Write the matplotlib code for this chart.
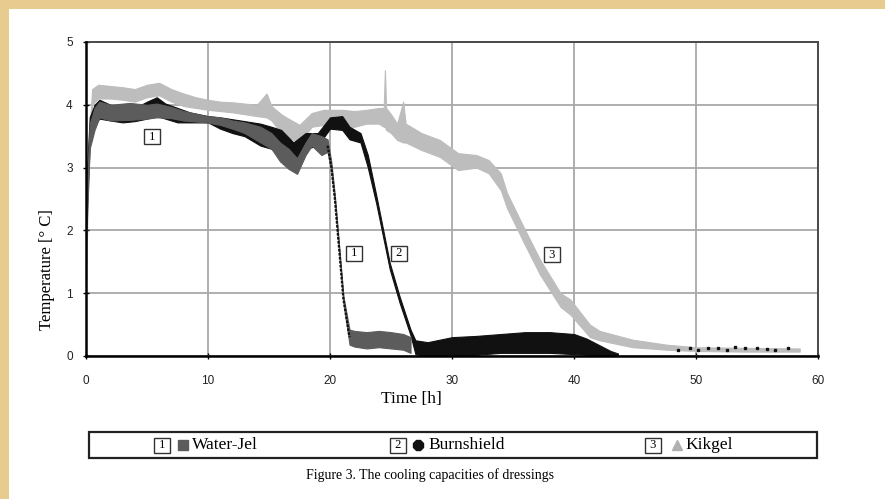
import matplotlib
matplotlib.use("Agg")
import matplotlib.pyplot as plt
from matplotlib.patches import Rectangle
from matplotlib.lines import Line2D

# ---------------- data ----------------
kik_t = [0, 0.2, 0.5, 1, 2, 3, 4, 5, 6, 7, 8, 9, 10, 11, 12, 13, 14, 14.8, 15.2, 16, 16.5, 17.5,
         18.5, 19.5, 21, 22, 23, 24, 24.4, 24.5, 24.6, 25, 25.5, 26, 26.2, 27.5, 29, 30.5, 32, 33,
         34, 34.5, 35.8, 37.2, 38.9, 39.7, 41.3, 42.1, 44.8, 47.6, 50, 54, 58.5]
kik_lo = [1.2, 2.9, 4.0, 4.1, 4.1, 4.08, 4.05, 4.12, 4.15, 4.05, 3.98, 3.95, 3.92, 3.9, 3.88, 3.85,
          3.82, 3.8, 3.75, 3.55, 3.49, 3.39, 3.65, 3.68, 3.65, 3.65, 3.7, 3.7, 3.65, 3.65, 3.6, 3.55,
          3.44, 3.4, 3.4, 3.28, 3.17, 2.96, 3.0, 2.91, 2.64, 2.36, 1.84, 1.30, 0.78, 0.66, 0.3, 0.25,
          0.14, 0.1, 0.08, 0.07, 0.07]
kik_hi = [1.8, 3.3, 4.25, 4.32, 4.3, 4.28, 4.25, 4.32, 4.35, 4.25, 4.18, 4.12, 4.08, 4.05, 4.04, 4.02,
          4.0, 4.18, 3.98, 3.85, 3.79, 3.68, 3.87, 3.92, 3.92, 3.9, 3.92, 3.95, 3.95, 4.55, 3.95, 3.85,
          3.7, 4.05, 3.7, 3.55, 3.44, 3.23, 3.2, 3.12, 2.91, 2.6, 2.08, 1.54, 1.0, 0.9, 0.5, 0.4,
          0.26, 0.18, 0.14, 0.13, 0.12]

wj_t = [0, 0.3, 0.7, 1.1, 2, 3.6, 5, 5.8, 6.9, 8, 9.9, 11, 12, 13, 14.3, 15.2, 15.9, 16.6, 17.3, 18,
        18.5, 19.3, 19.8, 20.1, 20.4, 21.1, 21.6, 22, 23, 24, 25, 26, 26.6]
wj_lo = [1.8, 3.3, 3.6, 3.8, 3.75, 3.76, 3.78, 3.8, 3.79, 3.75, 3.72, 3.68, 3.62, 3.55, 3.4, 3.3, 3.1,
         2.98, 2.9, 3.2, 3.35, 3.2, 3.25, 2.95, 2.45, 0.86, 0.18, 0.15, 0.12, 0.14, 0.12, 0.1, 0.05]
wj_hi = [2.4, 3.7, 3.95, 4.05, 4.0, 4.03, 4.0, 4.02, 3.97, 3.9, 3.82, 3.8, 3.75, 3.72, 3.65, 3.55, 3.4,
         3.3, 3.15, 3.4, 3.55, 3.5, 3.45, 3.1, 2.55, 0.95, 0.42, 0.4, 0.38, 0.4, 0.38, 0.35, 0.3]

bs_t = [0, 0.3, 0.7, 1.1, 2, 3, 4, 5, 5.8, 6.5, 7.5, 8.5, 10, 11, 12, 13, 14.3, 15.2, 16, 17, 18, 19,
        20, 21, 21.6, 22.5, 23.1, 23.8, 24.9, 25.7, 26.6, 27, 28, 30, 32, 34, 36, 38, 40, 41, 42, 43, 43.6]
bs_lo = [2.0, 3.4, 3.7, 3.78, 3.75, 3.72, 3.74, 3.78, 3.82, 3.78, 3.72, 3.72, 3.72, 3.62, 3.55, 3.5,
         3.35, 3.3, 3.2, 3.05, 3.3, 3.35, 3.62, 3.6, 3.45, 3.4, 3.0, 2.42, 1.38, 0.85, 0.33, 0.03, 0.0,
         0.0, 0.02, 0.05, 0.05, 0.05, 0.03, 0.02, 0.0, 0.0, 0.0]
bs_hi = [2.6, 3.8, 4.0, 4.08, 4.0, 3.98, 3.95, 4.05, 4.12, 4.02, 3.95, 3.88, 3.82, 3.8, 3.77, 3.74,
         3.7, 3.65, 3.6, 3.4, 3.55, 3.55, 3.8, 3.82, 3.65, 3.55, 3.2, 2.55, 1.48, 0.95, 0.42, 0.25, 0.22,
         0.3, 0.32, 0.35, 0.38, 0.38, 0.35, 0.28, 0.18, 0.08, 0.04]

tail_t = [48.5, 49.5, 50.2, 51, 51.8, 52.5, 53.2, 54, 55, 55.8, 56.5, 57.5]
tail_T = [0.1, 0.12, 0.1, 0.13, 0.12, 0.1, 0.14, 0.13, 0.12, 0.11, 0.1, 0.12]

x_ticks = [0, 10, 20, 30, 40, 50, 60]
y_ticks = [0, 1, 2, 3, 4, 5]

series_names = ["Water-Jel", "Burnshield", "Kikgel"]
curve_labels = [("1", 5.4, 3.49), ("1", 21.97, 1.64), ("2", 25.66, 1.64), ("3", 38.2, 1.61)]

# ---------------- figure ----------------
W, H = 885, 499
fig = plt.figure(figsize=(W / 100, H / 100), dpi=100, facecolor="#e8cb8f")
fig.patches.append(Rectangle((9 / W, 0), 1 - 9 / W, 1 - 9 / H, transform=fig.transFigure,
                             facecolor="white", edgecolor="none", zorder=-5))

ax = fig.add_axes([86 / W, 1 - 356 / H, (818 - 86) / W, (356 - 42) / H])
ax.set_zorder(2)
ax.set_facecolor("white")

c_kik, c_wj, c_bs = "#bdbdbd", "#5c5c5c", "#111111"

ax.fill_between(kik_t, kik_lo, kik_hi, color=c_kik, lw=0.8, edgecolor=c_kik, zorder=3)
ax.fill_between(bs_t, bs_lo, bs_hi, color=c_bs, lw=0.8, edgecolor=c_bs, zorder=4)
ax.fill_between(wj_t, wj_lo, wj_hi, color=c_wj, lw=0.8, edgecolor=c_wj, zorder=5)
# dark dotted drop of Water-Jel
i0, i1 = wj_t.index(19.8), wj_t.index(21.6)
ax.plot(wj_t[i0:i1 + 1], [(a + b) / 2 for a, b in zip(wj_lo[i0:i1 + 1], wj_hi[i0:i1 + 1])],
        color=c_bs, lw=1.6, ls=(0, (1.2, 0.6)), zorder=6)
ax.plot(tail_t, tail_T, ls="none", marker="s", ms=2, color=c_bs, zorder=6)

ax.set_xlim(0, 60)
ax.set_ylim(0, 5)
ax.set_xticks(x_ticks)
ax.set_yticks(y_ticks)
ax.grid(True, color="#a8a8a8", lw=1.3, zorder=1)
ax.set_axisbelow(True)

for s in ["top", "right"]:
    ax.spines[s].set_color("#4a4a4a")
    ax.spines[s].set_linewidth(1.4)
for s in ["left", "bottom"]:
    ax.spines[s].set_color("#000000")
    ax.spines[s].set_linewidth(1.8)
    ax.spines[s].set_zorder(7)

ax.tick_params(axis="both", direction="inout", length=5, width=1, colors="#000000",
               labelcolor="#222222", labelsize=8.5)
ax.tick_params(axis="x", pad=11)
ax.tick_params(axis="y", pad=7)
for lab in ax.get_xticklabels() + ax.get_yticklabels():
    lab.set_fontfamily("Liberation Sans")

serif = "Liberation Serif"
ax.text(0.444, -0.137, "Time [h]", transform=ax.transAxes, ha="center", va="center",
        fontsize=12.5, fontfamily=serif)
ax.text(-0.053, 0.274, "Temperature [° C]", transform=ax.transAxes, ha="center", va="center",
        rotation=90, fontsize=12, fontfamily=serif)

box = dict(boxstyle="square,pad=0.12", facecolor="white", edgecolor="#333333", lw=1)
for txt, tx, ty in curve_labels:
    ax.text(tx, ty, " " + txt + " ", ha="center", va="center", fontsize=9, fontfamily=serif,
            bbox=box, zorder=8)

# ---------------- legend box ----------------
fig.patches.append(Rectangle((89 / W, 1 - 458 / H), (817 - 89) / W, 26 / H, transform=fig.transFigure,
                             facecolor="white", edgecolor="#222222", lw=1.6, zorder=2))
ly = 1 - 445 / H
leg_nums = ["1", "2", "3"]
num_x = [162, 398, 653]
mk_x = [183, 418, 677]
txt_x = [192, 428, 685]
markers = ["s", "8", "^"]
mcolors = [c_wj, c_bs, "#b0b0b0"]
msizes = [6.5, 8, 7]
for n, nx, mx, tx, m, mc, msz, name in zip(leg_nums, num_x, mk_x, txt_x, markers, mcolors, msizes,
                                           series_names):
    fig.text(nx / W, ly, " " + n + " ", ha="center", va="center", fontsize=9, fontfamily=serif,
             bbox=box, zorder=5)
    fig.add_artist(Line2D([mx / W], [ly], marker=m, color=mc, ms=msz, ls="none",
                          transform=fig.transFigure, zorder=5))
    fig.text(tx / W, ly, name, ha="left", va="center", fontsize=12.5, fontfamily=serif, zorder=5)

fig.text(430 / W, 1 - 475 / H, "Figure 3. The cooling capacities of dressings", ha="center",
         va="center", fontsize=10, fontfamily=serif)

fig.savefig("out.png", dpi=100, facecolor=fig.get_facecolor())
